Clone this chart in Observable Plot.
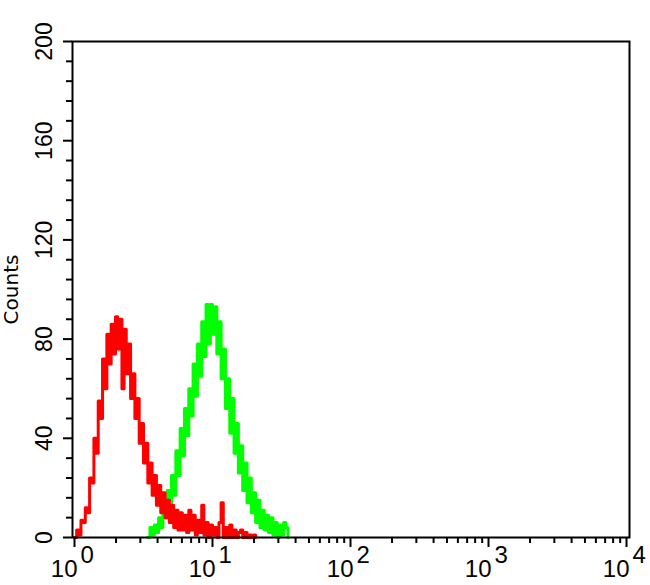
<!DOCTYPE html>
<html><head><meta charset="utf-8">
<script src="https://cdn.jsdelivr.net/npm/d3@7"></script>
<script src="https://cdn.jsdelivr.net/npm/@observablehq/plot@0.6"></script>
<style>body{margin:0;background:#fff}</style>
</head><body><div id="chart"></div>
<script>
const channelsPerDecade = 64;
const redStart = 0;
const redCounts = [0,3,1,7,6,12,10,24,22,40,34,55,48,72,60,82,70,86,74,89,76,88,60,84,66,78,56,66,48,56,38,46,30,38,22,30,17,25,13,21,10,18,8,15,6,13,4,11,3,10,3,9,2,11,3,9,1,7,2,13,1,6,0,5,1,4,0,6,14,0,4,0,5,0,3,0,2,3,0,2,0,1,0,1,0];
const greenStart = 34;
const greenCounts = [0,4,1,5,2,8,4,13,8,19,12,25,17,35,25,44,33,52,41,60,49,70,57,78,65,87,73,94,78,94,82,93,74,87,64,76,52,64,42,56,34,46,26,37,19,30,14,24,10,18,6,15,4,11,3,9,2,8,1,6,0,5,1,6,4,0];
const xMajor = [1,10,100,1000,10000];
const xExp = ["0","1","2","3","4"];
const xMinor = [2,3,4,5,6,7,8,9,20,30,40,50,60,70,80,90,200,300,400,500,600,700,800,900,2000,3000,4000,5000,6000,7000,8000,9000];
const yMajor = [0,40,80,120,160,200];
const yMinor = [8,16,24,32,48,56,64,72,88,96,104,112,128,136,144,152,168,176,184,192];
const yTitle = "Counts";

const toRows = (start, counts) => counts.map((c, i) => ({x: Math.pow(10, (start + i) / channelsPerDecade), y: c}));
const red = toRows(redStart, redCounts);
const green = toRows(greenStart, greenCounts);
const majors = xMajor.map((v, i) => ({v, e: xExp[i]}));

const font = "Liberation Sans, Arial, sans-serif";
const chart = Plot.plot({
  width: 650, height: 585,
  marginLeft: 72, marginTop: 41, marginRight: 21, marginBottom: 48,
  style: {background: "#fff", fontFamily: font, color: "#000"},
  x: {type: "log", domain: [Math.pow(10, -0.0145), Math.pow(10, 4.0217)], label: null},
  y: {domain: [0, 200], label: null},
  marks: [
    Plot.line(green, {x: "x", y: "y", curve: "step-after", stroke: "#00ff00", strokeWidth: 3}),
    Plot.line(red, {x: "x", y: "y", curve: "step-after", stroke: "#ff0000", strokeWidth: 3}),
    Plot.frame({stroke: "#000", strokeWidth: 2}),
    Plot.axisX({ticks: xMajor, tickSize: 10, strokeWidth: 2, tickFormat: () => "", anchor: "bottom", label: null}),
    Plot.axisX({ticks: xMinor, tickSize: 6, strokeWidth: 2, tickFormat: () => "", anchor: "bottom", label: null}),
    Plot.axisY({ticks: yMajor, tickSize: 9, strokeWidth: 2, tickFormat: () => "", anchor: "left", label: null}),
    Plot.axisY({ticks: yMinor, tickSize: 6, strokeWidth: 2, tickFormat: () => "", anchor: "left", label: null}),
    Plot.text(majors, {x: "v", text: () => "10", frameAnchor: "bottom", dy: 32, dx: 3, textAnchor: "end", lineAnchor: "middle", fontSize: 24, fill: "#000"}),
    Plot.text(majors, {x: "v", text: "e", frameAnchor: "bottom", dy: 18, dx: 6, textAnchor: "start", lineAnchor: "middle", fontSize: 24, fill: "#000"}),
    Plot.text(yMajor, {y: d => d, text: d => String(d), frameAnchor: "left", dx: -28, rotate: -90, textAnchor: "middle", lineAnchor: "middle", fontSize: 23, fill: "#000"}),
    Plot.text([yTitle], {y: () => 100, text: d => d, frameAnchor: "left", dx: -61, rotate: -90, textAnchor: "middle", lineAnchor: "middle", fontSize: 20, fontFamily: "DejaVu Sans, sans-serif", fill: "#000"})
  ]
});
document.getElementById("chart").appendChild(chart);
</script>
</body></html>
